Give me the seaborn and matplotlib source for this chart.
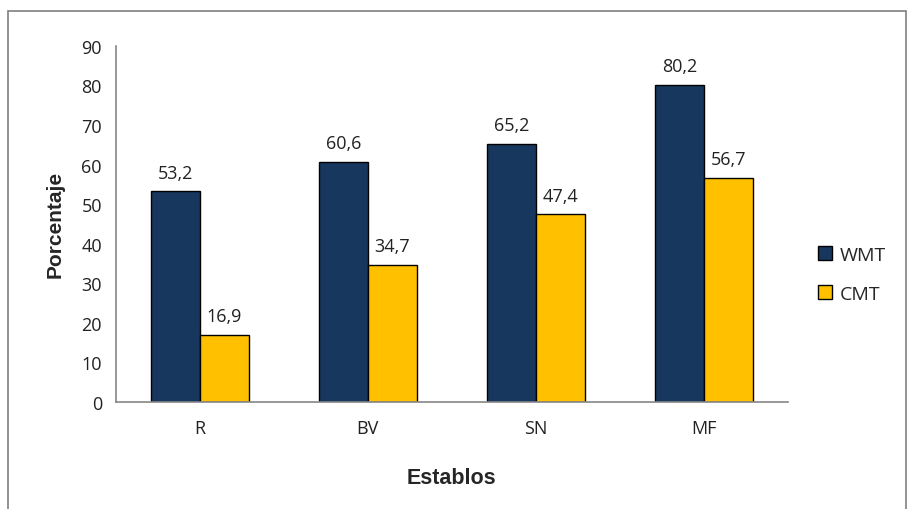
import matplotlib
matplotlib.use("Agg")
import matplotlib.pyplot as plt
import seaborn as sns
import pandas as pd
from matplotlib.patches import Rectangle, Patch

categories = ["R", "BV", "SN", "MF"]
wmt = [53.2, 60.6, 65.2, 80.2]
cmt = [16.9, 34.7, 47.4, 56.7]
series = ["WMT", "CMT"]
yticks = list(range(0, 100, 10))

df = pd.DataFrame({
    "Establos": categories * 2,
    "Porcentaje": wmt + cmt,
    "Serie": ["WMT"] * 4 + ["CMT"] * 4,
})

sns.set_style("white")
plt.rcParams["font.family"] = ["Open Sans", "DejaVu Sans"]

colors = {"WMT": "#17375E", "CMT": "#FFC000"}
fs = 13

fig = plt.figure(figsize=(9.12, 5.10), dpi=100)
ax = fig.add_axes([0.127, 0.21, 0.737, 0.698])

sns.barplot(data=df, x="Establos", y="Porcentaje", hue="Serie", order=categories,
            hue_order=series, palette=colors, width=0.58, edgecolor="black",
            linewidth=1.0, ax=ax, legend=False, saturation=1)

for cont in ax.containers:
    ax.bar_label(cont, labels=[f"{v:.1f}".replace(".", ",") for v in cont.datavalues],
                 padding=7, fontsize=fs, color="#222222")

ax.set_ylim(0, 90)
ax.set_yticks(yticks)
ax.set_xlim(-0.5, len(categories) - 0.5)
ax.set_xticks([i - 0.5 for i in range(len(categories) + 1)], minor=True)
ax.tick_params(axis="x", which="major", length=0, pad=12, labelsize=fs, colors="#222222")
ax.tick_params(axis="x", which="minor", length=5, width=1, color="#868686", direction="out")
ax.tick_params(axis="y", length=5, width=1, color="#868686", direction="out", labelsize=fs,
               labelcolor="#222222", pad=5)

for s in ["top", "right"]:
    ax.spines[s].set_visible(False)
for s in ["left", "bottom"]:
    ax.spines[s].set_color("#868686")
    ax.spines[s].set_linewidth(1.2)

ax.set_ylabel("Porcentaje", fontsize=15, fontweight="bold", labelpad=12,
              family=["Liberation Sans", "DejaVu Sans"])
ax.set_xlabel("Establos", fontsize=15.5, fontweight="bold", labelpad=22,
              family=["Liberation Sans", "DejaVu Sans"])

handles = [Patch(facecolor=colors[s], edgecolor="black", linewidth=1.0, label=s) for s in series]
fig.legend(handles=handles, loc="center left", bbox_to_anchor=(0.878, 0.46), frameon=False,
           fontsize=14, handlelength=0.7, handleheight=0.7, labelspacing=1.1, handletextpad=0.4)

fig.patches.append(Rectangle((8 / 912, -0.05), 898 / 912, 1 - 12 / 510 + 0.05,
                             transform=fig.transFigure, fill=False, edgecolor="#7F7F7F",
                             linewidth=1.2, zorder=0))

fig.savefig("out.png", dpi=100)
